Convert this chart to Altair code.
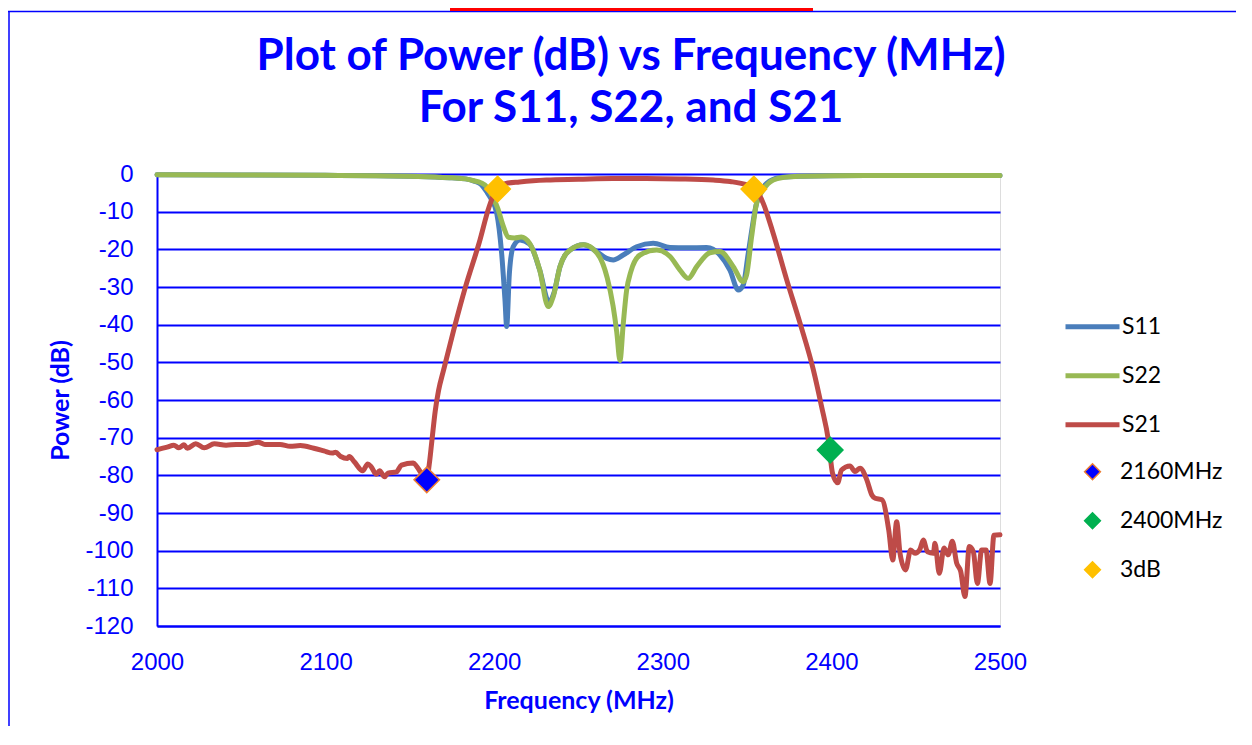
import altair as alt
import pandas as pd

# ---------------- data ----------------
freq_ticks = [2000, 2100, 2200, 2300, 2400, 2500]
power_ticks = list(range(-120, 1, 10))

s11_freq = [2000, 2050, 2100, 2130, 2150, 2165, 2175, 2183, 2188, 2192, 2195.5, 2198,
            2201.5, 2204.4, 2206.4, 2207.4, 2209, 2211.3, 2215.3, 2221, 2227, 2232.5,
            2235.5, 2239, 2245, 2253, 2260.8, 2266.7, 2270.6, 2276.5, 2284.5, 2294.3,
            2304.3, 2314.2, 2326, 2333.9, 2339.8, 2344.8, 2347.7, 2350.7, 2355.6,
            2361.6, 2369.5, 2381, 2420, 2460, 2500]
s11_db = [-0.2, -0.25, -0.35, -0.45, -0.6, -0.8, -1.0, -1.3, -1.9, -2.7, -4.7, -6.5,
          -10.4, -21, -33.5, -40.5, -26.4, -19.3, -17.5, -18.6, -25.5, -34,
          -31.5, -24.6, -20.2, -18.8, -20.6, -22.4, -22.8, -21.5, -19.3, -18.4,
          -19.5, -19.6, -19.5, -21.5, -25.5, -30.8, -29.5, -21, -7.8,
          -2.5, -0.9, -0.6, -0.4, -0.4, -0.4]

s22_freq = [2000, 2050, 2100, 2130, 2150, 2165, 2175, 2183, 2188, 2192, 2196, 2199.5,
            2202, 2205.5, 2208.5, 2212, 2216, 2221, 2227, 2232, 2235, 2239, 2245,
            2253, 2261, 2267, 2270.5, 2272.7, 2274.6, 2276.5, 2278.5, 2281, 2286.5,
            2296.4, 2304.3, 2310.2, 2315.1, 2320.1, 2328, 2333.9, 2341.8, 2347.7,
            2349.7, 2352.7, 2355.6, 2359.6, 2365.5, 2372, 2381, 2420, 2460, 2500]
s22_db = [-0.2, -0.25, -0.35, -0.45, -0.6, -0.8, -1.0, -1.3, -1.8, -2.3, -3.6, -6.5,
          -9, -14, -16.8, -17, -16.7, -18.4, -25.5, -35.2, -32.6, -24.6, -20.2,
          -18.8, -21, -27.5, -35, -42, -49.5, -40, -31, -26, -21.5,
          -20.2, -21.9, -25.5, -27.7, -24.6, -20.9, -20.6, -24.6, -28.6,
          -26.8, -16.6, -7.8, -4.2, -1.6, -0.9, -0.6, -0.4, -0.4, -0.4]

s21_freq = [2000, 2006, 2010, 2013, 2016, 2018, 2023, 2028, 2034, 2041, 2047, 2053,
            2060, 2064, 2073, 2079, 2085, 2093, 2099, 2104, 2106, 2109, 2113, 2114,
            2117, 2122, 2125, 2127, 2130, 2132, 2135, 2137, 2142, 2145, 2152, 2154,
            2158, 2160, 2161.5, 2163, 2165, 2167, 2170, 2176, 2183, 2191, 2197, 2200.5,
            2204, 2207, 2215, 2223, 2231, 2250, 2270, 2290, 2310, 2330, 2340, 2350,
            2354.7, 2359.6, 2365.5, 2373.5, 2381.4, 2389.3, 2394.2, 2398.2, 2400.7,
            2403.7, 2406, 2411, 2414, 2417, 2421, 2424, 2426, 2430, 2434, 2436.4,
            2438.7, 2440.7, 2444, 2447, 2449.6, 2452.5, 2454.5, 2457, 2460.5, 2461.4,
            2464, 2466.8, 2469.3, 2471.7, 2474.3, 2476.7, 2479.2, 2481.8, 2484.2,
            2486.6, 2489.1, 2491.7, 2494.1, 2496.4, 2500]
s21_db = [-73.2, -72.5, -72, -72.7, -71.9, -72.8, -71.6, -72.7, -71.6, -72, -71.8, -71.8,
          -71.2, -71.8, -71.8, -72.3, -72.1, -72.8, -73.5, -74.1, -73.9, -75, -75.5, -75,
          -76.4, -78.8, -77, -77.7, -79.7, -78.8, -80.4, -79.4, -79.1, -77.3, -76.7, -77.6,
          -80.3, -81.2, -77, -71, -63, -57.5, -52, -41.4, -29.9, -18.4, -8.7, -4.8,
          -3.2, -2.5, -2.1, -1.8, -1.6, -1.4, -1.2, -1.2, -1.3, -1.6, -2, -2.9,
          -3.8, -7.8, -15.8, -28.1, -39.6, -52, -61.8, -70.6, -79.5,
          -82, -78.6, -77.5, -79, -78.1, -81.2, -85.2, -86.1, -86.5, -94.5, -102.5,
          -92.3, -100.7, -105.1, -99.8, -100.7, -99.6, -97.2, -100.3, -100.7, -98,
          -106, -99.3, -101.1, -97.5, -103.3, -105.5, -112.2, -98.9, -100.3,
          -108.7, -99.8, -99.8, -108.7, -95.9, -95.8]

series_names = ["S11", "S22", "S21"]
series_colors = ["#4A7EBB", "#98B954", "#BE4B48"]

marker_names = ["2160MHz", "2400MHz", "3dB"]
marker_fill = ["#0000FF", "#00B050", "#FFC000"]
marker_edge = ["#ED7D31", "#00B050", "#FFC000"]
marker_series = ["2160MHz", "2400MHz", "3dB", "3dB"]
marker_freq = [2160, 2399.3, 2202, 2354]
marker_db = [-81.2, -73.3, -4.0, -4.0]

title_lines = ["Plot of Power (dB) vs Frequency (MHz)", "For S11, S22, and S21"]

# ---------------- tables ----------------
rows = []
for name, fs, vs in [("S11", s11_freq, s11_db), ("S22", s22_freq, s22_db), ("S21", s21_freq, s21_db)]:
    for f, v in zip(fs, vs):
        rows.append({"series": name, "freq": f, "power": v})
lines_df = pd.DataFrame(rows)
marker_df = pd.DataFrame({"marker": marker_series, "freq": marker_freq, "power": marker_db})

BLUE = "#0000FF"
W, H = 843, 452
PAD = {"left": 149, "top": 166, "right": 236, "bottom": 100}

x_enc = alt.X(
    "freq:Q",
    scale=alt.Scale(domain=[2000, 2500], nice=False, zero=False),
    axis=alt.Axis(
        values=freq_ticks, labelExpr="'' + datum.value", grid=False, ticks=False,
        labelFlush=False, domainColor=BLUE, domainWidth=2, labelColor=BLUE,
        labelFont="Liberation Sans", labelFontSize=24, labelPadding=24,
        title="Frequency (MHz)", titleColor=BLUE, titleFont="Lato", titleFontWeight="bold",
        titleFontSize=25, titleX=W / 2, titleY=74, titleBaseline="middle", titleAlign="center",
    ),
)
y_enc = alt.Y(
    "power:Q",
    scale=alt.Scale(domain=[-120, 0], nice=False, zero=False),
    axis=alt.Axis(
        values=power_ticks, labelExpr="'' + datum.value", grid=True, gridColor=BLUE,
        gridWidth=2, gridOpacity=1, ticks=False, domainColor=BLUE, domainWidth=2,
        labelColor=BLUE, labelFont="Liberation Sans", labelFontSize=24, labelPadding=24,
        labelFlush=False,
        title="Power (dB)", titleColor=BLUE, titleFont="Lato", titleFontWeight="bold",
        titleFontSize=25, titleAngle=270, titleX=-97, titleY=H / 2,
        titleAlign="center", titleBaseline="middle",
    ),
)

line_legend = alt.Legend(
    title=None, orient="none", legendX=906, legendY=128.5, symbolType="stroke",
    symbolSize=2916, symbolStrokeWidth=5, labelFont="Lato", labelFontSize=23,
    labelColor="#000000", labelOffset=0, padding=0, rowPadding=0, clipHeight=48.5,
)
marker_legend = alt.Legend(
    title=None, orient="none", legendX=924, legendY=273.5, symbolType="diamond",
    symbolSize=250, symbolStrokeWidth=1.5, labelFont="Lato", labelFontSize=23,
    labelColor="#000000", labelOffset=16, padding=0, rowPadding=0, clipHeight=48.5,
)

color_enc = alt.Color("series:N", scale=alt.Scale(domain=series_names, range=series_colors),
                      legend=line_legend)

layers = []
for s in series_names:
    layers.append(
        alt.Chart(lines_df)
        .transform_filter(alt.datum.series == s)
        .mark_line(strokeWidth=5, interpolate="monotone", strokeCap="round", strokeJoin="round")
        .encode(x=x_enc, y=y_enc, color=color_enc)
    )

points = alt.Chart(marker_df).mark_point(
    shape="diamond", filled=True, size=650, strokeWidth=1.5, opacity=1
).encode(
    x=x_enc, y=y_enc,
    fill=alt.Fill("marker:N", scale=alt.Scale(domain=marker_names, range=marker_fill), legend=marker_legend),
    stroke=alt.Stroke("marker:N", scale=alt.Scale(domain=marker_names, range=marker_edge), legend=marker_legend),
)

deco = alt.Data(values=[{"k": 1}])
title_layers = []
for i, line in enumerate(title_lines):
    title_layers.append(
        alt.Chart(deco).mark_text(
            font="Lato", fontSize=44, fontWeight="bold", color=BLUE, align="center",
            baseline="alphabetic",
        ).encode(x=alt.value(474), y=alt.value(-104 + 52 * i), text=alt.value(line))
    )

left_border = alt.Chart(deco).mark_rule(color=BLUE, strokeWidth=1.5).encode(
    x=alt.value(-148), y=alt.value(-163), y2=alt.value(H + PAD["bottom"]))
top_border = alt.Chart(deco).mark_rule(color=BLUE, strokeWidth=1.5).encode(
    x=alt.value(-149), x2=alt.value(W + PAD["right"]), y=alt.value(-162.5))
red_bar = alt.Chart(deco).mark_rect(color="#FF0000").encode(
    x=alt.value(293), x2=alt.value(656), y=alt.value(-166), y2=alt.value(-163))

chart = alt.layer(left_border, top_border, red_bar, *layers, points, *title_layers).properties(
    width=W, height=H, padding=PAD, autosize=alt.AutoSizeParams(type="none"),
).configure_view(strokeWidth=0).configure(background="white")

chart.save("out.html", embed_options={"renderer": "svg", "actions": False})
